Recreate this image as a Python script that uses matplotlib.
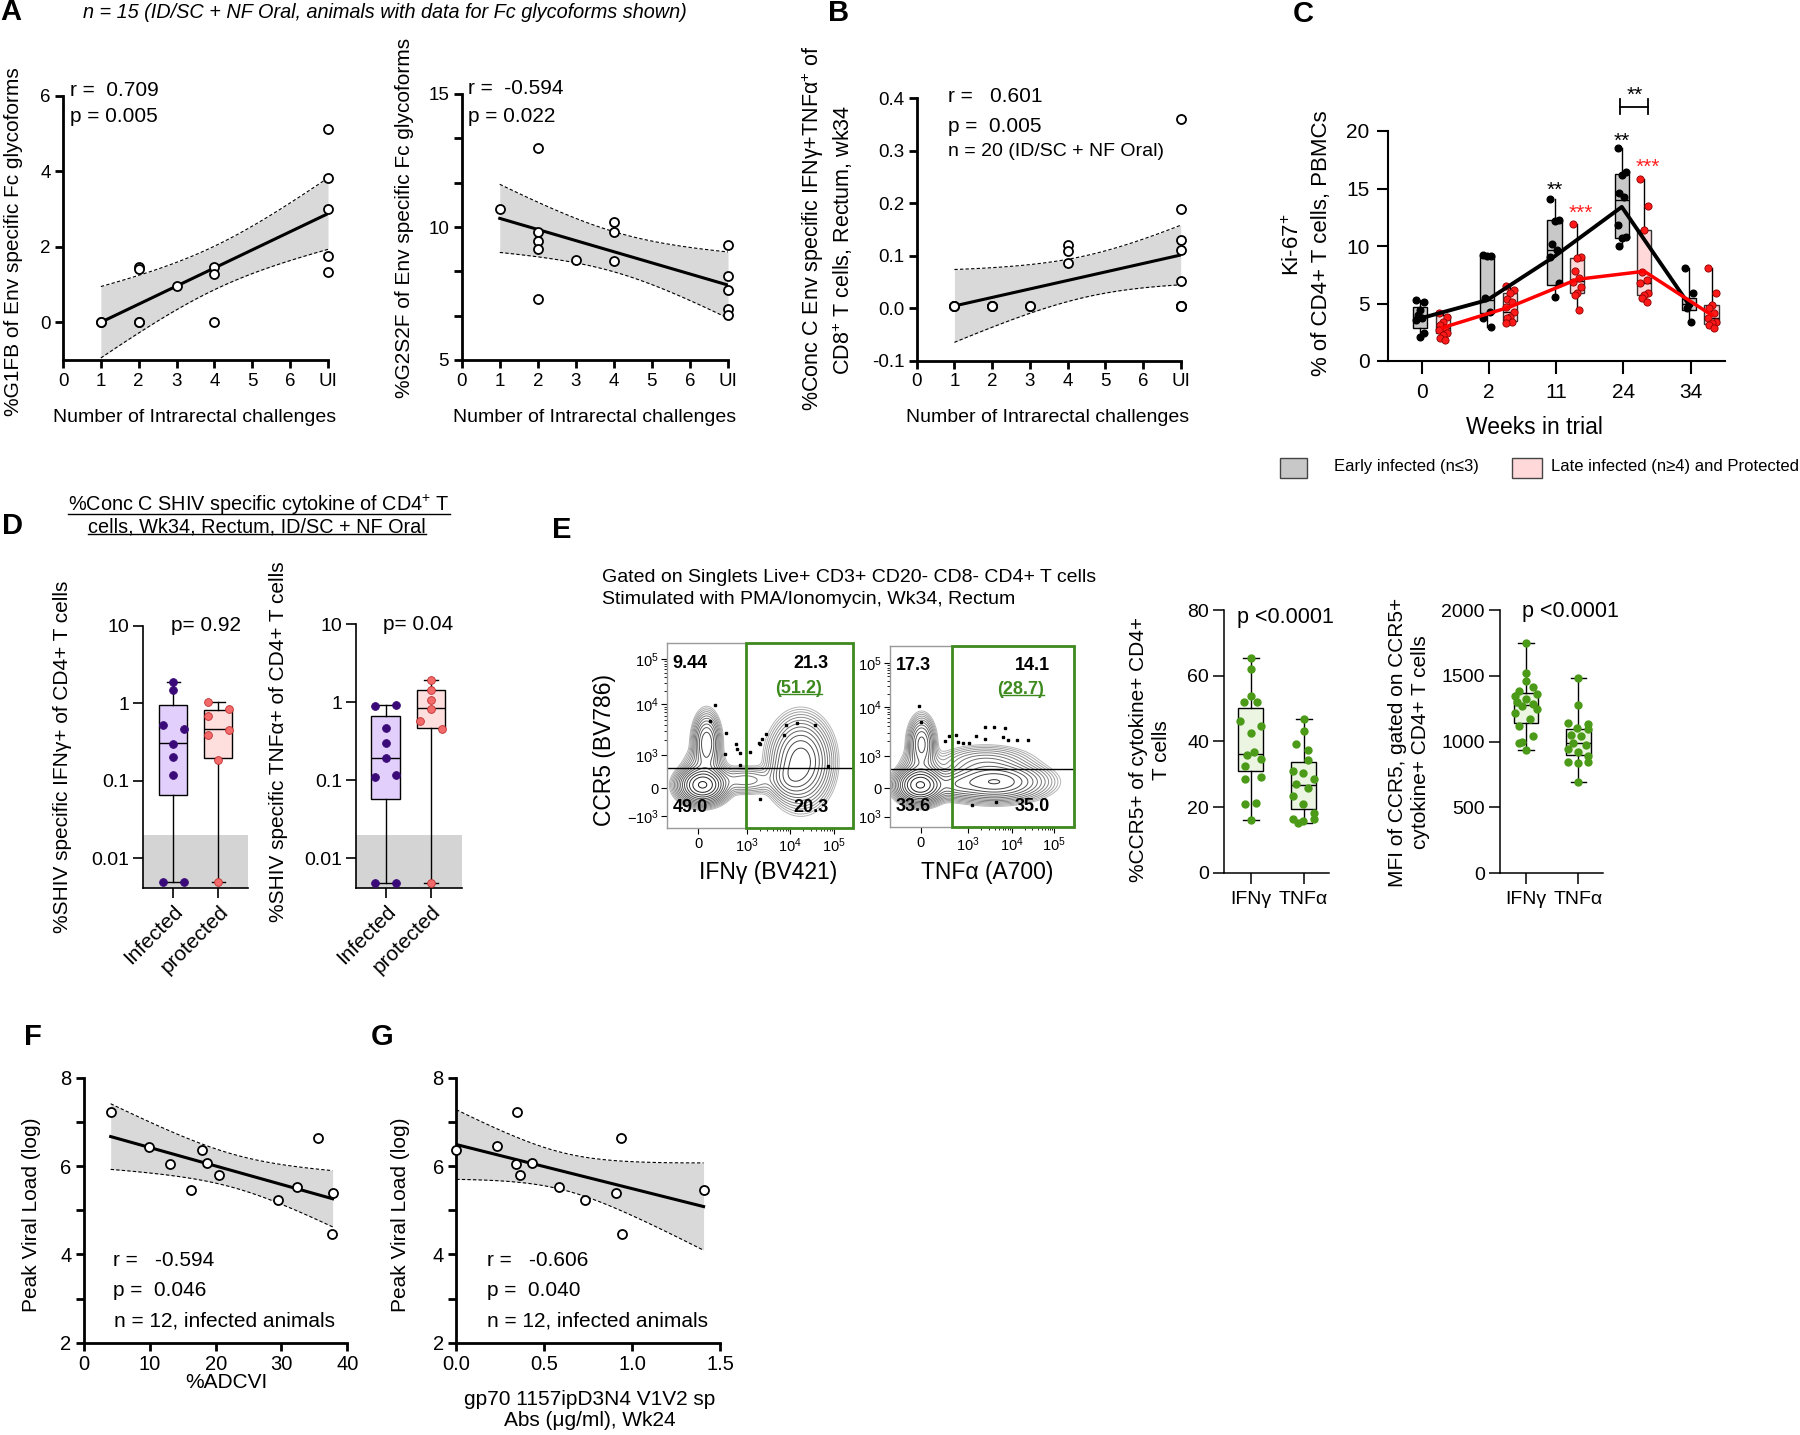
import numpy as np
import matplotlib

matplotlib.use("Agg")
import matplotlib.pyplot as plt
from matplotlib.lines import Line2D
from matplotlib.patches import Rectangle

W, H = 1800, 1435
plt.rcParams["font.family"] = ["Liberation Sans", "DejaVu Sans"]
plt.rcParams["mathtext.fontset"] = "custom"
plt.rcParams["mathtext.rm"] = "Liberation Sans"
plt.rcParams["mathtext.it"] = "Liberation Sans:italic"
plt.rcParams["mathtext.bf"] = "Liberation Sans:bold"

# ---------------- data ----------------
# A / B: x = number of intrarectal challenges (7 = UI, uninfected); overlapping points repeated
challenge_labels = ["0", "1", "2", "3", "4", "5", "6", "UI"]
a1_x = [1, 1, 2, 2, 2, 2, 3, 4, 4, 4, 7, 7, 7, 7, 7]
a1_y = [0.0, 0.0, 1.46, 1.41, 0.0, 0.0, 0.95, 1.47, 1.29, 0.0, 5.12, 3.82, 3.0, 1.75, 1.34]
a2_x = [1, 2, 2, 2, 2, 2, 3, 4, 4, 4, 7, 7, 7, 7, 7]
a2_y = [10.69, 12.97, 9.81, 9.49, 9.19, 7.31, 8.77, 10.18, 9.80, 8.73, 9.31, 8.16, 7.62, 6.93, 6.68]
b_x = [1, 1, 1, 2, 2, 2, 3, 3, 4, 4, 4, 7, 7, 7, 7, 7, 7, 7, 7, 7]
b_y = [0.005, 0.005, 0.005, 0.005, 0.005, 0.005, 0.005, 0.005, 0.121, 0.109, 0.087,
       0.36, 0.19, 0.13, 0.111, 0.051, 0.005, 0.005, 0.005, 0.005]

# C: Ki-67+ % of CD4+ T cells by week
weeks = ["0", "2", "11", "24", "34"]
early_pts = [
    [5.3, 5.16, 4.43, 4.0, 3.7, 3.57, 2.4, 2.1],
    [9.2, 9.13, 9.1, 5.45, 4.3, 3.7, 3.0],
    [14.1, 12.26, 12.2, 10.2, 9.65, 9.07, 6.75, 5.6],
    [18.55, 16.46, 16.17, 14.58, 14.3, 11.8, 10.81, 10.67, 10.03],
    [8.06, 5.88, 5.0, 4.6, 3.42],
]
late_pts = [
    [4.14, 3.86, 3.42, 3.13, 2.84, 2.7, 2.4, 2.26, 1.97, 1.83],
    [6.52, 6.17, 5.88, 5.4, 5.16, 4.72, 4.29, 3.86, 3.71, 3.42, 3.28],
    [11.88, 9.07, 8.93, 7.86, 7.19, 6.9, 6.4, 5.88, 5.74, 4.43],
    [15.8, 13.48, 11.39, 7.77, 7.04, 6.75, 5.94, 5.74, 5.45, 5.16],
    [8.06, 5.88, 4.87, 4.58, 4.14, 3.71, 3.42, 3.28, 3.13, 2.9],
]
early_q1 = [2.84, 4.15, 6.6, 10.7, 4.43]
early_med = [3.85, 5.3, 9.65, 14.0, 5.0]
early_q3 = [4.67, 9.2, 12.26, 16.3, 5.45]
late_q1 = [2.45, 3.45, 5.9, 5.7, 3.2]
late_med = [2.9, 4.3, 7.0, 6.8, 3.7]
late_q3 = [4.0, 5.9, 8.95, 11.4, 4.87]
early_mean = [3.7, 5.3, 9.1, 13.4, 4.9]
late_mean = [2.9, 4.7, 7.1, 7.8, 4.0]

# D: % SHIV specific cytokine+ CD4+ T cells
d_groups = ["Infected", "protected"]
ifng_inf = [1.86, 1.5, 0.53, 0.47, 0.30, 0.20, 0.12, 0.005, 0.005]
ifng_pro = [1.03, 0.84, 0.68, 0.45, 0.395, 0.186, 0.005]
ifng_q1 = [0.065, 0.195]
ifng_med = [0.305, 0.46]
ifng_q3 = [0.95, 0.83]
tnfa_inf = [0.906, 0.933, 0.466, 0.299, 0.191, 0.111, 0.117, 0.0048, 0.0048]
tnfa_pro = [1.94, 1.457, 1.08, 0.82, 0.58, 0.46, 0.0048]
tnfa_q1 = [0.058, 0.467]
tnfa_med = [0.19, 0.837]
tnfa_q3 = [0.66, 1.44]
d_lod = 0.02

# E: flow cytometry quadrant values
flow1_quads = ["9.44", "21.3", "(51.2)", "49.0", "20.3"]
flow2_quads = ["17.3", "14.1", "(28.7)", "33.6", "35.0"]
# density components (x, y in display fraction, sx, sy, weight)
flow1_blobs = [
    (0.19, 0.234, 0.055, 0.042, 1.0),
    (0.212, 0.46, 0.032, 0.07, 0.3),
    (0.72, 0.36, 0.07, 0.1, 0.4),
    (0.42, 0.26, 0.09, 0.035, 0.06),
    (0.66, 0.27, 0.05, 0.05, 0.12),
    (0.2, 0.33, 0.05, 0.05, 0.08),
]
flow2_blobs = [
    (0.165, 0.233, 0.055, 0.042, 1.0),
    (0.172, 0.46, 0.032, 0.065, 0.25),
    (0.57, 0.25, 0.12, 0.045, 0.45),
    (0.52, 0.35, 0.12, 0.045, 0.08),
    (0.36, 0.235, 0.07, 0.035, 0.12),
    (0.17, 0.33, 0.05, 0.05, 0.08),
]
flow1_dots_x = [0.257, 0.232, 0.319, 0.309, 0.371, 0.376, 0.390, 0.390, 0.444, 0.492,
                0.512, 0.531, 0.502, 0.627, 0.641, 0.701, 0.797, 0.865, 0.498]
flow1_dots_y = [0.665, 0.578, 0.516, 0.402, 0.453, 0.429, 0.408, 0.344, 0.415, 0.462,
                0.484, 0.511, 0.453, 0.502, 0.560, 0.569, 0.556, 0.335, 0.158]
flow2_dots_x = [0.160, 0.170, 0.302, 0.322, 0.361, 0.370, 0.400, 0.429, 0.468, 0.517,
                0.517, 0.565, 0.624, 0.614, 0.643, 0.692, 0.750, 0.448, 0.579]
flow2_dots_y = [0.669, 0.579, 0.478, 0.504, 0.509, 0.472, 0.467, 0.467, 0.504, 0.485,
                0.555, 0.555, 0.550, 0.500, 0.482, 0.482, 0.482, 0.123, 0.142]

# E: CCR5 box plots
e_groups = ["IFN\u03b3", "TNF\u03b1"]
pct_ifng = [65.4, 61.9, 53.9, 51.9, 51.9, 46.3, 44.8, 42.6, 36.7, 35.7, 34.7, 32.6, 29.1, 28.6, 21.0, 21.2, 16.1]
pct_tnfa = [46.8, 43.1, 39.2, 37.5, 34.2, 31.1, 30.3, 28.6, 27.1, 25.9, 23.5, 21.0, 18.3, 16.4, 15.7, 15.2, 16.4]
pct_q1 = [31.0, 19.3]
pct_med = [36.0, 26.8]
pct_q3 = [50.2, 33.7]
mfi_ifng = [1751, 1522, 1458, 1412, 1387, 1361, 1349, 1323, 1298, 1285, 1267, 1247, 1221, 1170, 1120, 1043, 992, 997, 939]
mfi_tnfa = [1483, 1277, 1140, 1132, 1107, 1094, 1051, 1043, 992, 972, 941, 921, 891, 845, 845, 835, 695]
mfi_q1 = [1145, 901]
mfi_med = [1277, 987]
mfi_q3 = [1369, 1099]

# F / G: peak viral load vs ADCVI and V1V2 antibodies
f_x = [4.05, 9.87, 13.06, 16.25, 17.87, 18.63, 20.56, 29.4, 32.4, 35.6, 37.77, 37.72]
f_y = [7.22, 6.44, 6.04, 5.45, 6.36, 6.08, 5.79, 5.23, 5.53, 6.63, 5.40, 4.46]
g_x = [0.0, 0.231, 0.343, 0.339, 0.362, 0.428, 0.581, 0.733, 0.909, 0.934, 0.941, 1.405]
g_y = [6.36, 6.45, 7.22, 6.04, 5.79, 6.08, 5.53, 5.23, 5.40, 6.63, 4.46, 5.45]

# ---------------- helpers ----------------
fig = plt.figure(figsize=(W / 100, H / 100), dpi=100)


def box(l, t, r, b):
    return fig.add_axes([l / W, 1 - b / H, (r - l) / W, (b - t) / H])


def txt(x, y, s, size=14, ha="left", va="center", **kw):
    return fig.text(x / W, 1 - y / H, s, size=size, ha=ha, va=va, **kw)


def prism(ax, lw=2.0, tl=6, size=13.5, pad=3):
    for s in ("top", "right"):
        ax.spines[s].set_visible(False)
    for s in ("left", "bottom"):
        ax.spines[s].set_linewidth(lw)
    ax.tick_params(which="both", width=lw, length=tl, labelsize=size, direction="out", pad=pad)
    ax.set_facecolor("none")


T95 = {8: 2.306, 9: 2.262, 10: 2.228, 11: 2.201, 12: 2.179, 13: 2.160, 14: 2.145, 15: 2.131,
       16: 2.120, 17: 2.110, 18: 2.101, 19: 2.093, 20: 2.086}


def fit_band(ax, x, y):
    x = np.asarray(x, float)
    y = np.asarray(y, float)
    n = len(x)
    b, a = np.polyfit(x, y, 1)
    xs = np.linspace(x.min(), x.max(), 120)
    yh = a + b * xs
    s = np.sqrt(np.sum((y - (a + b * x)) ** 2) / (n - 2))
    se = s * np.sqrt(1 / n + (xs - x.mean()) ** 2 / np.sum((x - x.mean()) ** 2))
    lo, hi = yh - T95[n - 2] * se, yh + T95[n - 2] * se
    ax.fill_between(xs, lo, hi, color="#d9d9d9", lw=0, zorder=1)
    for band in (lo, hi):
        ax.plot(xs, band, color="black", lw=0.8, ls=(0, (3, 2)), zorder=2)
    ax.plot(xs, yh, color="black", lw=2.2, zorder=3)


def scatter_panel(ax, x, y):
    fit_band(ax, x, y)
    ax.plot(x, y, "o", ms=6.5, mfc="white", mec="black", mew=1.3, zorder=5, clip_on=False)


def stats(q1, med, q3, pts):
    return [dict(q1=a, med=m, q3=c, whislo=min(p), whishi=max(p), fliers=[])
            for a, m, c, p in zip(q1, med, q3, pts)]


def underline(t, trim_left=0.0, lw=1.0):
    r = fig.canvas.get_renderer()
    bb = t.get_window_extent(renderer=r)
    y = bb.y0 + 3.0
    fig.add_artist(Line2D([(bb.x0 + trim_left) / W, bb.x1 / W], [y / H, y / H],
                          transform=fig.transFigure, color=t.get_color(), lw=lw))


# ---------------- A ----------------
txt(11, 12, "A", size=21, weight="bold", ha="center")
txt(83, 12, "n = 15 (ID/SC + NF Oral, animals with data for Fc glycoforms shown)", size=14.3, style="italic")

ax = box(63, 96, 328, 360)
prism(ax)
scatter_panel(ax, a1_x, a1_y)
ax.set_xlim(0, 7)
ax.set_ylim(-1, 6)
ax.set_xticks(range(8), challenge_labels)
ax.set_yticks([0, 2, 4, 6])
txt(70, 90, "r =  0.709", size=15)
txt(70, 117, "p = 0.005", size=15)
txt(14, 242, "%G1FB of Env specific Fc glycoforms", size=15, rotation=90, ha="center")
txt(195, 417, "Number of Intrarectal challenges", ha="center")

ax = box(461.7, 94, 728, 360)
prism(ax)
scatter_panel(ax, a2_x, a2_y)
ax.set_xlim(0, 7)
ax.set_ylim(5, 15)
ax.set_xticks(range(8), challenge_labels)
ax.set_yticks([5, 10, 15])
ax.set_yticks([5 + 5 / 3 * k for k in (1, 2, 4, 5)], minor=True)
txt(468, 89, "r =  -0.594", size=15)
txt(468, 117, "p = 0.022", size=15)
txt(404, 218, "%G2S2F of Env specific Fc glycoforms", size=15, rotation=90, ha="center")
txt(595, 417, "Number of Intrarectal challenges", ha="center")

# ---------------- B ----------------
txt(839, 13, "B", size=21, weight="bold", ha="center")
ax = box(916.7, 98.3, 1180.7, 360.7)
prism(ax)
scatter_panel(ax, b_x, b_y)
ax.set_xlim(0, 7)
ax.set_ylim(-0.1, 0.4)
ax.set_xticks(range(8), challenge_labels)
ax.set_yticks([-0.1, 0.0, 0.1, 0.2, 0.3, 0.4], ["-0.1", "0.0", "0.1", "0.2", "0.3", "0.4"])
txt(948, 97, "r =   0.601", size=15)
txt(948, 126, "p =  0.005", size=15)
txt(948, 152, "n = 20 (ID/SC + NF Oral)", size=14)
txt(813, 228, "%Conc C Env specific IFN\u03b3+TNF\u03b1$^{+}$ of", size=15.5, rotation=90, ha="center")
txt(843, 240, "CD8$^{+}$ T cells, Rectum, wk34", size=15.5, rotation=90, ha="center")
txt(1048, 417, "Number of Intrarectal challenges", ha="center")

# ---------------- C ----------------
txt(1303, 14, "C", size=21, weight="bold", ha="center")
axc = box(1387.7, 131, 1725, 361)
prism(axc, lw=1.5, tl=8, size=15, pad=5)
axc.tick_params(axis="x", length=9, pad=7)
pos = np.arange(len(weeks))
early_pos = pos - 0.025
late_pos = pos + 0.31
jit = [-0.06, 0.06, 0.0, -0.035, 0.035]
common = dict(widths=0.21, patch_artist=True, showcaps=False, manage_ticks=False,
              medianprops=dict(color="black", lw=1.0), whiskerprops=dict(color="black", lw=1.0))
axc.bxp(stats(early_q1, early_med, early_q3, early_pts), positions=early_pos,
        boxprops=dict(facecolor="#c8c8c8", edgecolor="black", lw=1.0), **common)
axc.bxp(stats(late_q1, late_med, late_q3, late_pts), positions=late_pos,
        boxprops=dict(facecolor="#ffd9d9", edgecolor="#333333", lw=1.0), **common)
for i, p in enumerate(early_pts):
    off = [jit[k % 5] for k in range(len(p))]
    axc.plot(early_pos[i] + np.array(off), p, "o", color="black", ms=4.8, zorder=3)
for i, p in enumerate(late_pts):
    off = [jit[k % 5] for k in range(len(p))]
    axc.plot(late_pos[i] + np.array(off), p, "o", mfc="#ff1a1a", mec="#8b0000", mew=0.6, ms=5.2, zorder=3)
axc.plot(early_pos, early_mean, color="black", lw=2.8, zorder=4)
axc.plot(late_pos, late_mean, color="#ff0000", lw=2.5, zorder=4)
axc.set_xlim(-0.506, 4.51)
axc.set_ylim(0, 20)
axc.set_xticks(pos, weeks)
axc.set_yticks([0, 5, 10, 15, 20])
star = dict(ha="center", va="center", size=15, clip_on=False)
axc.text(early_pos[2], 14.8, "**", color="black", **star)
axc.text(late_pos[2] + 0.05, 12.8, "***", color="#ff2020", **star)
axc.text(early_pos[3], 19.1, "**", color="black", **star)
axc.text(late_pos[3] + 0.05, 16.8, "***", color="#ff2020", **star)
bx = [early_pos[3] - 0.02, late_pos[3] + 0.06]
axc.plot(bx, [22.1, 22.1], color="black", lw=1.3, clip_on=False)
for xb in bx:
    axc.plot([xb, xb], [21.5, 22.75], color="black", lw=1.3, clip_on=False)
axc.text(sum(bx) / 2, 23.1, "**", color="black", **star)
txt(1293, 245, "Ki-67$^{+}$", size=16, rotation=90, ha="center")
txt(1322, 243, "% of CD4+ T cells, PBMCs", size=16, rotation=90, ha="center")
txt(1534, 428, "Weeks in trial", size=16.5, ha="center")
fig.add_artist(Rectangle((1280 / W, 1 - 478 / H), 27 / W, 20 / H, transform=fig.transFigure,
                         facecolor="#c8c8c8", edgecolor="#444444", lw=1.0))
fig.add_artist(Rectangle((1512 / W, 1 - 478 / H), 30 / W, 20 / H, transform=fig.transFigure,
                         facecolor="#ffd9d9", edgecolor="#444444", lw=1.0))
txt(1334, 466, "Early infected (n\u22643)", size=12)
txt(1551, 466, "Late infected (n\u22654) and Protected", size=12)

# ---------------- D ----------------
txt(12, 526, "D", size=21, weight="bold", ha="center")
t1 = txt(259, 505, "%Conc C SHIV specific cytokine of CD4$^{+}$ T", size=14.3, ha="center")
t2 = txt(257, 527, "cells, Wk34, Rectum, ID/SC + NF Oral", size=14.3, ha="center")


def d_panel(rect, inf, pro, q1, med, q3, pval, ptxt, ylab, ylab_xy, xl):
    ax = box(*rect)
    prism(ax, lw=1.2, tl=7, size=14)
    ax.set_yscale("log")
    ax.set_ylim(0.0041, 10)
    ax.set_xlim(*xl)
    ax.axhspan(0.0041, d_lod, color="#d4d4d4", lw=0, zorder=0)
    cols = [("#e2cffc", "#3a0a78", "#3a0a78"), ("#ffdede", "#f26a6a", "#c03030")]
    for i, pts in enumerate((inf, pro)):
        face = cols[i][0]
        st = stats([q1[i]], [med[i]], [q3[i]], [pts])
        ax.bxp(st, positions=[i], widths=0.63, patch_artist=True, manage_ticks=False,
               boxprops=dict(facecolor=face, edgecolor="black", lw=1.0),
               medianprops=dict(color="black", lw=1.0), whiskerprops=dict(color="black", lw=1.0),
               capprops=dict(color="black", lw=1.0), capwidths=0.3)
    for i, (pts, off) in enumerate(((inf, ptxt[0]), (pro, ptxt[1]))):
        face, pc, pe = cols[i]
        ax.plot(i + np.array(off), pts, "o", mfc=pc, mec=pe, mew=0.6, ms=5.6, zorder=4, clip_on=False)
    ax.yaxis.set_minor_locator(matplotlib.ticker.NullLocator())
    ax.set_yticks([0.01, 0.1, 1, 10], ["0.01", "0.1", "1", "10"])
    ax.set_xticks([0, 1])
    ax.set_xticklabels(d_groups, rotation=45, ha="right", va="top", rotation_mode="anchor", size=15)
    ax.text(0.26, 1.0, pval, transform=ax.transAxes, size=15, ha="left", va="center")
    txt(ylab_xy[0], ylab_xy[1], ylab, size=15, rotation=90, ha="center")
    return ax


ifng_off = ([0, 0, -0.23, 0.23, 0, 0, 0, -0.23, 0.23], [-0.23, 0.23, -0.23, 0.23, -0.23, 0, 0])
tnfa_off = ([-0.23, 0.23, 0, 0, 0, -0.23, 0.23, -0.23, 0.23], [0, 0, 0, 0, -0.24, 0.24, 0])
d_panel((143.3, 625.7, 248.3, 888.3), ifng_inf, ifng_pro, ifng_q1, ifng_med, ifng_q3,
        "p= 0.92", ifng_off, "%SHIV specific IFN\u03b3+ of CD4+ T cells", (63, 757), (-0.667, 1.667))
d_panel((356, 624.3, 461.7, 888.3), tnfa_inf, tnfa_pro, tnfa_q1, tnfa_med, tnfa_q3,
        "p= 0.04", tnfa_off, "%SHIV specific TNF\u03b1+ of CD4+ T cells", (278, 742), (-0.656, 1.678))

# ---------------- E: flow plots ----------------
txt(562, 530, "E", size=21, weight="bold", ha="center")
txt(602, 577, "Gated on Singlets Live+ CD3+ CD20- CD8- CD4+ T cells", size=14)
txt(602, 599, "Stimulated with PMA/Ionomycin, Wk34, Rectum", size=14)

green = "#3f8a1f"


def minor_log(d0, d1):
    return [d0 + (d1 - d0) * np.log10(k) for k in range(2, 10)]


def flow(rect, blobs, dx, dy, quads, xt, yt, ylabs, gate_x, gate_y):
    ax = box(*rect)
    gx, gy = np.meshgrid(np.linspace(0, 1, 300), np.linspace(0, 1, 300))
    z = np.zeros_like(gx)
    for cx, cy, sx, sy, w in blobs:
        z += w * np.exp(-((gx - cx) ** 2 / (2 * sx ** 2) + (gy - cy) ** 2 / (2 * sy ** 2)))
    levels = np.geomspace(0.005, 0.92, 15) * z.max()
    ax.contour(gx, gy, z, levels=levels, colors=[plt.cm.Greys(v) for v in np.linspace(0.4, 0.92, 15)],
               linewidths=0.7)
    ax.plot(dx, dy, "s", color="black", ms=2.0, lw=0)
    ax.axhline(gate_y, color="black", lw=1.0)
    ax.add_patch(Rectangle((gate_x, 0), 1 - gate_x, 1, fill=False, edgecolor=green, lw=2.0,
                           clip_on=False, zorder=5))
    ax.set_xlim(0, 1)
    ax.set_ylim(0, 1)
    for s in ax.spines.values():
        s.set_color("#9a9a9a")
        s.set_linewidth(1.0)
    ax.set_xticks(xt, ["0", "$10^3$", "$10^4$", "$10^5$"])
    ax.set_yticks(yt, ylabs)
    ax.set_xticks(minor_log(xt[1], xt[2]) + minor_log(xt[2], xt[3]), minor=True)
    ax.set_yticks(minor_log(yt[2], yt[3]) + minor_log(yt[3], yt[4]), minor=True)
    ax.tick_params(which="major", length=4, width=0.8, labelsize=10.5, pad=2)
    ax.tick_params(which="minor", length=2, width=0.6)
    bold = dict(size=13, weight="bold", va="center", transform=ax.transAxes)
    ax.text(0.03, 0.89, quads[0], ha="left", **bold)
    ax.text(0.87, 0.89, quads[1], ha="right", **bold)
    g = ax.text(0.71, 0.758, quads[2], ha="center", color=green, **bold)
    ax.text(0.03, 0.113, quads[3], ha="left", **bold)
    ax.text(0.87, 0.113, quads[4], ha="right", **bold)
    return g


g1 = flow((667.3, 643.3, 852.7, 828.3), flow1_blobs, flow1_dots_x, flow1_dots_y, flow1_quads,
          [0.167, 0.428, 0.661, 0.899], [0.067, 0.216, 0.396, 0.670, 0.914],
          ["$-10^3$", "0", "$10^3$", "$10^4$", "$10^5$"], 0.423, 0.328)
g2 = flow((890, 646, 1073.6, 827.3), flow2_blobs, flow2_dots_x, flow2_dots_y, flow2_quads,
          [0.167, 0.426, 0.666, 0.895], [0.059, 0.215, 0.393, 0.665, 0.904],
          ["$10^3$", "0", "$10^3$", "$10^4$", "$10^5$"], 0.336, 0.324)
txt(605, 750, "CCR5 (BV786)", size=16.5, rotation=90, ha="center")
txt(768, 873, "IFN\u03b3 (BV421)", size=16.5, ha="center")
txt(987, 872, "TNF\u03b1 (A700)", size=16.5, ha="center")

# ---------------- E: box plots ----------------


def e_panel(rect, a, b, q1, med, q3, offs, yt, ylim, ylab, yl_xy, ptxt_xy):
    ax = box(*rect)
    prism(ax, lw=1.1, tl=8, size=14)
    st = stats(q1, med, q3, [a, b])
    ax.bxp(st, positions=[0, 1], widths=0.47, patch_artist=True, manage_ticks=False,
           boxprops=dict(facecolor="#ebf5e2", edgecolor="black", lw=1.0),
           medianprops=dict(color="black", lw=1.0), whiskerprops=dict(color="black", lw=1.0),
           capprops=dict(color="black", lw=1.0), capwidths=0.3)
    for i, (pts, off) in enumerate(zip((a, b), offs)):
        ax.plot(i + np.array(off), pts, "o", color="#4b9a18", ms=5.0, zorder=4)
    ax.set_xlim(-0.5, 1.48)
    ax.set_ylim(*ylim)
    ax.set_yticks(yt)
    ax.set_xticks([0, 1], e_groups)
    ax.tick_params(axis="x", pad=5)
    txt(ptxt_xy[0], ptxt_xy[1], "p <0.0001", size=15.5)
    txt(yl_xy[0], yl_xy[1], ylab, size=15, rotation=90, ha="center", linespacing=1.3)


pct_off = ([0, 0, 0, -0.12, 0.12, -0.2, 0.2, 0, 0.06, -0.08, 0.19, -0.11, 0.19, -0.11, -0.11, 0.1, 0],
           [0, 0, -0.14, 0.09, 0.09, -0.21, -0.02, 0.19, -0.14, 0.09, -0.21, -0.02, 0.19, -0.21, -0.02, -0.1, 0.19])
mfi_off = ([0, 0, 0, 0.13, -0.13, 0.21, -0.21, 0, -0.17, 0.13, -0.08, 0.21, -0.21, 0.08, -0.13, 0.13, -0.13, -0.08, 0],
           [0, 0, -0.19, 0.19, -0.03, 0.19, -0.15, 0.06, -0.11, 0.14, -0.19, 0, 0.19, -0.19, 0.19, 0, 0])
e_panel((1224.3, 610, 1329, 872.7), pct_ifng, pct_tnfa, pct_q1, pct_med, pct_q3, pct_off,
        [0, 20, 40, 60, 80], (0, 80), "%CCR5+ of cytokine+ CD4+\nT cells", (1150, 750), (1237, 617))
e_panel((1500, 610, 1603.4, 873.3), mfi_ifng, mfi_tnfa, mfi_q1, mfi_med, mfi_q3, mfi_off,
        [0, 500, 1000, 1500, 2000], (0, 2000), "MFI of CCR5, gated on CCR5+\ncytokine+ CD4+ T cells",
        (1409, 742), (1522, 612))

# ---------------- F / G ----------------
txt(33, 1037, "F", size=21, weight="bold", ha="center")
ax = box(84, 1077.7, 347.3, 1342.7)
prism(ax, size=14.5)
scatter_panel(ax, f_x, f_y)
ax.set_xlim(0, 40)
ax.set_ylim(2, 8)
ax.set_xticks([0, 10, 20, 30, 40])
ax.set_yticks([2, 4, 6, 8])
ax.set_yticks([3, 5, 7], minor=True)
txt(113, 1260, "r =   -0.594", size=15)
txt(113, 1290, "p =  0.046", size=15)
txt(114, 1321, "n = 12, infected animals", size=15)
txt(226, 1383, "%ADCVI", size=15, ha="center")
txt(32, 1215, "Peak Viral Load (log)", size=15, rotation=90, ha="center")

txt(382, 1037, "G", size=21, weight="bold", ha="center")
ax = box(456.3, 1077.7, 720.3, 1342.7)
prism(ax, size=14.5)
scatter_panel(ax, g_x, g_y)
ax.set_xlim(0, 1.5)
ax.set_ylim(2, 8)
ax.set_xticks([0, 0.5, 1.0, 1.5], ["0.0", "0.5", "1.0", "1.5"])
ax.set_yticks([2, 4, 6, 8])
ax.set_yticks([3, 5, 7], minor=True)
txt(487, 1261, "r =   -0.606", size=15)
txt(487, 1290, "p =  0.040", size=15)
txt(487, 1321, "n = 12, infected animals", size=15)
txt(590, 1410, "gp70 1157ipD3N4 V1V2 sp\nAbs (\u03bcg/ml), Wk24", size=15, ha="center", linespacing=1.1)
txt(400, 1215, "Peak Viral Load (log)", size=15, rotation=90, ha="center")

# underlines
underline(t1)
underline(t2)
underline(g1, trim_left=4)
underline(g2, trim_left=4)

fig.savefig("out.png", dpi=100)
